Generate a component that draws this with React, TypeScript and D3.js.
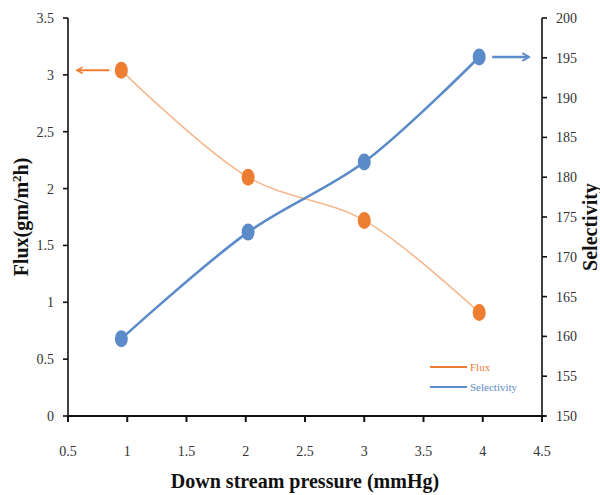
import React from "react";
import * as d3 from "d3";

const pressure = [0.95, 2.02, 3.0, 3.97];
const flux = [3.04, 2.1, 1.72, 0.91];
const selectivity = [159.7, 173.1, 181.9, 195.1];
const xTicks = [0.5, 1, 1.5, 2, 2.5, 3, 3.5, 4, 4.5];
const fluxTicks = [0, 0.5, 1, 1.5, 2, 2.5, 3, 3.5];
const selTicks = [150, 155, 160, 165, 170, 175, 180, 185, 190, 195, 200];

const W = 600, H = 495;
const L = 68, R = 542, T = 18, B = 416;
const ORANGE = "#ED7D31";
const BLUE = "#5B8BC8";
const FONT = "'Liberation Serif', 'DejaVu Serif', serif";

export default function App() {
  const x = d3.scaleLinear().domain([0.5, 4.5]).range([L, R]);
  const yL = d3.scaleLinear().domain([0, 3.5]).range([B, T]);
  const yR = d3.scaleLinear().domain([150, 200]).range([B, T]);

  const fluxPts = pressure.map((p, i) => [x(p), yL(flux[i])] as [number, number]);
  const selPts = pressure.map((p, i) => [x(p), yR(selectivity[i])] as [number, number]);
  const line = d3.line().curve(d3.curveCatmullRom.alpha(0.5));

  return (
    <svg width={W} height={H} style={{ position: "absolute", left: 0, top: 0, background: "#fff" }}>
      <defs>
        <marker id="arrO" viewBox="0 0 10 10" refX="8" refY="5" markerWidth="4" markerHeight="4" orient="auto">
          <path d="M1,1 L8,5 L1,9" fill="none" stroke={ORANGE} strokeWidth="2" />
        </marker>
        <marker id="arrB" viewBox="0 0 10 10" refX="8" refY="5" markerWidth="4" markerHeight="4" orient="auto">
          <path d="M1,1 L8,5 L1,9" fill="none" stroke={BLUE} strokeWidth="2" />
        </marker>
      </defs>

      {/* axes */}
      <line x1={L} y1={T} x2={L} y2={B} stroke="#111" strokeWidth={1.6} />
      <line x1={R} y1={T} x2={R} y2={B} stroke="#111" strokeWidth={1.6} />
      <line x1={L} y1={B} x2={R + 3} y2={B} stroke="#111" strokeWidth={2} />

      {xTicks.map((t) => (
        <g key={"x" + t}>
          <line x1={x(t)} y1={B} x2={x(t)} y2={B + 6} stroke="#111" strokeWidth={2} />
          <text x={x(t)} y={B + 40} textAnchor="middle" fontFamily={FONT} fontSize={14} fill="#333">{t}</text>
        </g>
      ))}
      {fluxTicks.map((t) => (
        <g key={"l" + t}>
          <line x1={L - 5} y1={yL(t)} x2={L} y2={yL(t)} stroke="#111" strokeWidth={1.6} />
          <text x={L - 14} y={yL(t) + 5} textAnchor="end" fontFamily={FONT} fontSize={14} fill="#333">{t}</text>
        </g>
      ))}
      {selTicks.map((t) => (
        <g key={"r" + t}>
          <line x1={R} y1={yR(t)} x2={R + 5} y2={yR(t)} stroke="#111" strokeWidth={1.6} />
          <text x={R + 14} y={yR(t) + 5} textAnchor="start" fontFamily={FONT} fontSize={14} fill="#333">{t}</text>
        </g>
      ))}

      {/* series */}
      <path d={line(fluxPts) || ""} fill="none" stroke={ORANGE} strokeOpacity={0.55} strokeWidth={1.6} />
      <path d={line(selPts) || ""} fill="none" stroke={BLUE} strokeWidth={2.6} />
      {fluxPts.map(([px, py], i) => (
        <ellipse key={"fo" + i} cx={px} cy={py} rx={6.5} ry={8.5} fill={ORANGE} />
      ))}
      {selPts.map(([px, py], i) => (
        <ellipse key={"sb" + i} cx={px} cy={py} rx={6.5} ry={8.5} fill={BLUE} />
      ))}

      {/* arrows */}
      <line x1={fluxPts[0][0] - 12} y1={fluxPts[0][1]} x2={L + 9} y2={fluxPts[0][1]} stroke={ORANGE} strokeWidth={2} markerEnd="url(#arrO)" />
      <line x1={selPts[3][0] + 13} y1={selPts[3][1]} x2={R - 13} y2={selPts[3][1]} stroke={BLUE} strokeWidth={2.4} markerEnd="url(#arrB)" />

      {/* legend */}
      <line x1={430} y1={367} x2={467} y2={367} stroke={ORANGE} strokeWidth={2} />
      <text x={470} y={371} fontFamily={FONT} fontSize={11} fill={ORANGE}>Flux</text>
      <line x1={430} y1={387} x2={467} y2={387} stroke={BLUE} strokeWidth={2} />
      <text x={470} y={391} fontFamily={FONT} fontSize={11} fill={BLUE}>Selectivity</text>

      {/* titles */}
      <text x={305} y={488} textAnchor="middle" fontFamily={FONT} fontWeight="bold" fontSize={20} fill="#111">
        Down stream pressure (mmHg)
      </text>
      <text transform={`translate(28, ${(T + B) / 2}) rotate(-90)`} textAnchor="middle" fontFamily={FONT} fontWeight="bold" fontSize={20} fill="#111">
        Flux(gm/m<tspan baselineShift="super" fontSize={13}>2</tspan>h)
      </text>
      <text transform={`translate(597, ${(T + B) / 2 + 10}) rotate(-90)`} textAnchor="middle" fontFamily={FONT} fontWeight="bold" fontSize={20} fill="#111">
        Selectivity
      </text>
    </svg>
  );
}
